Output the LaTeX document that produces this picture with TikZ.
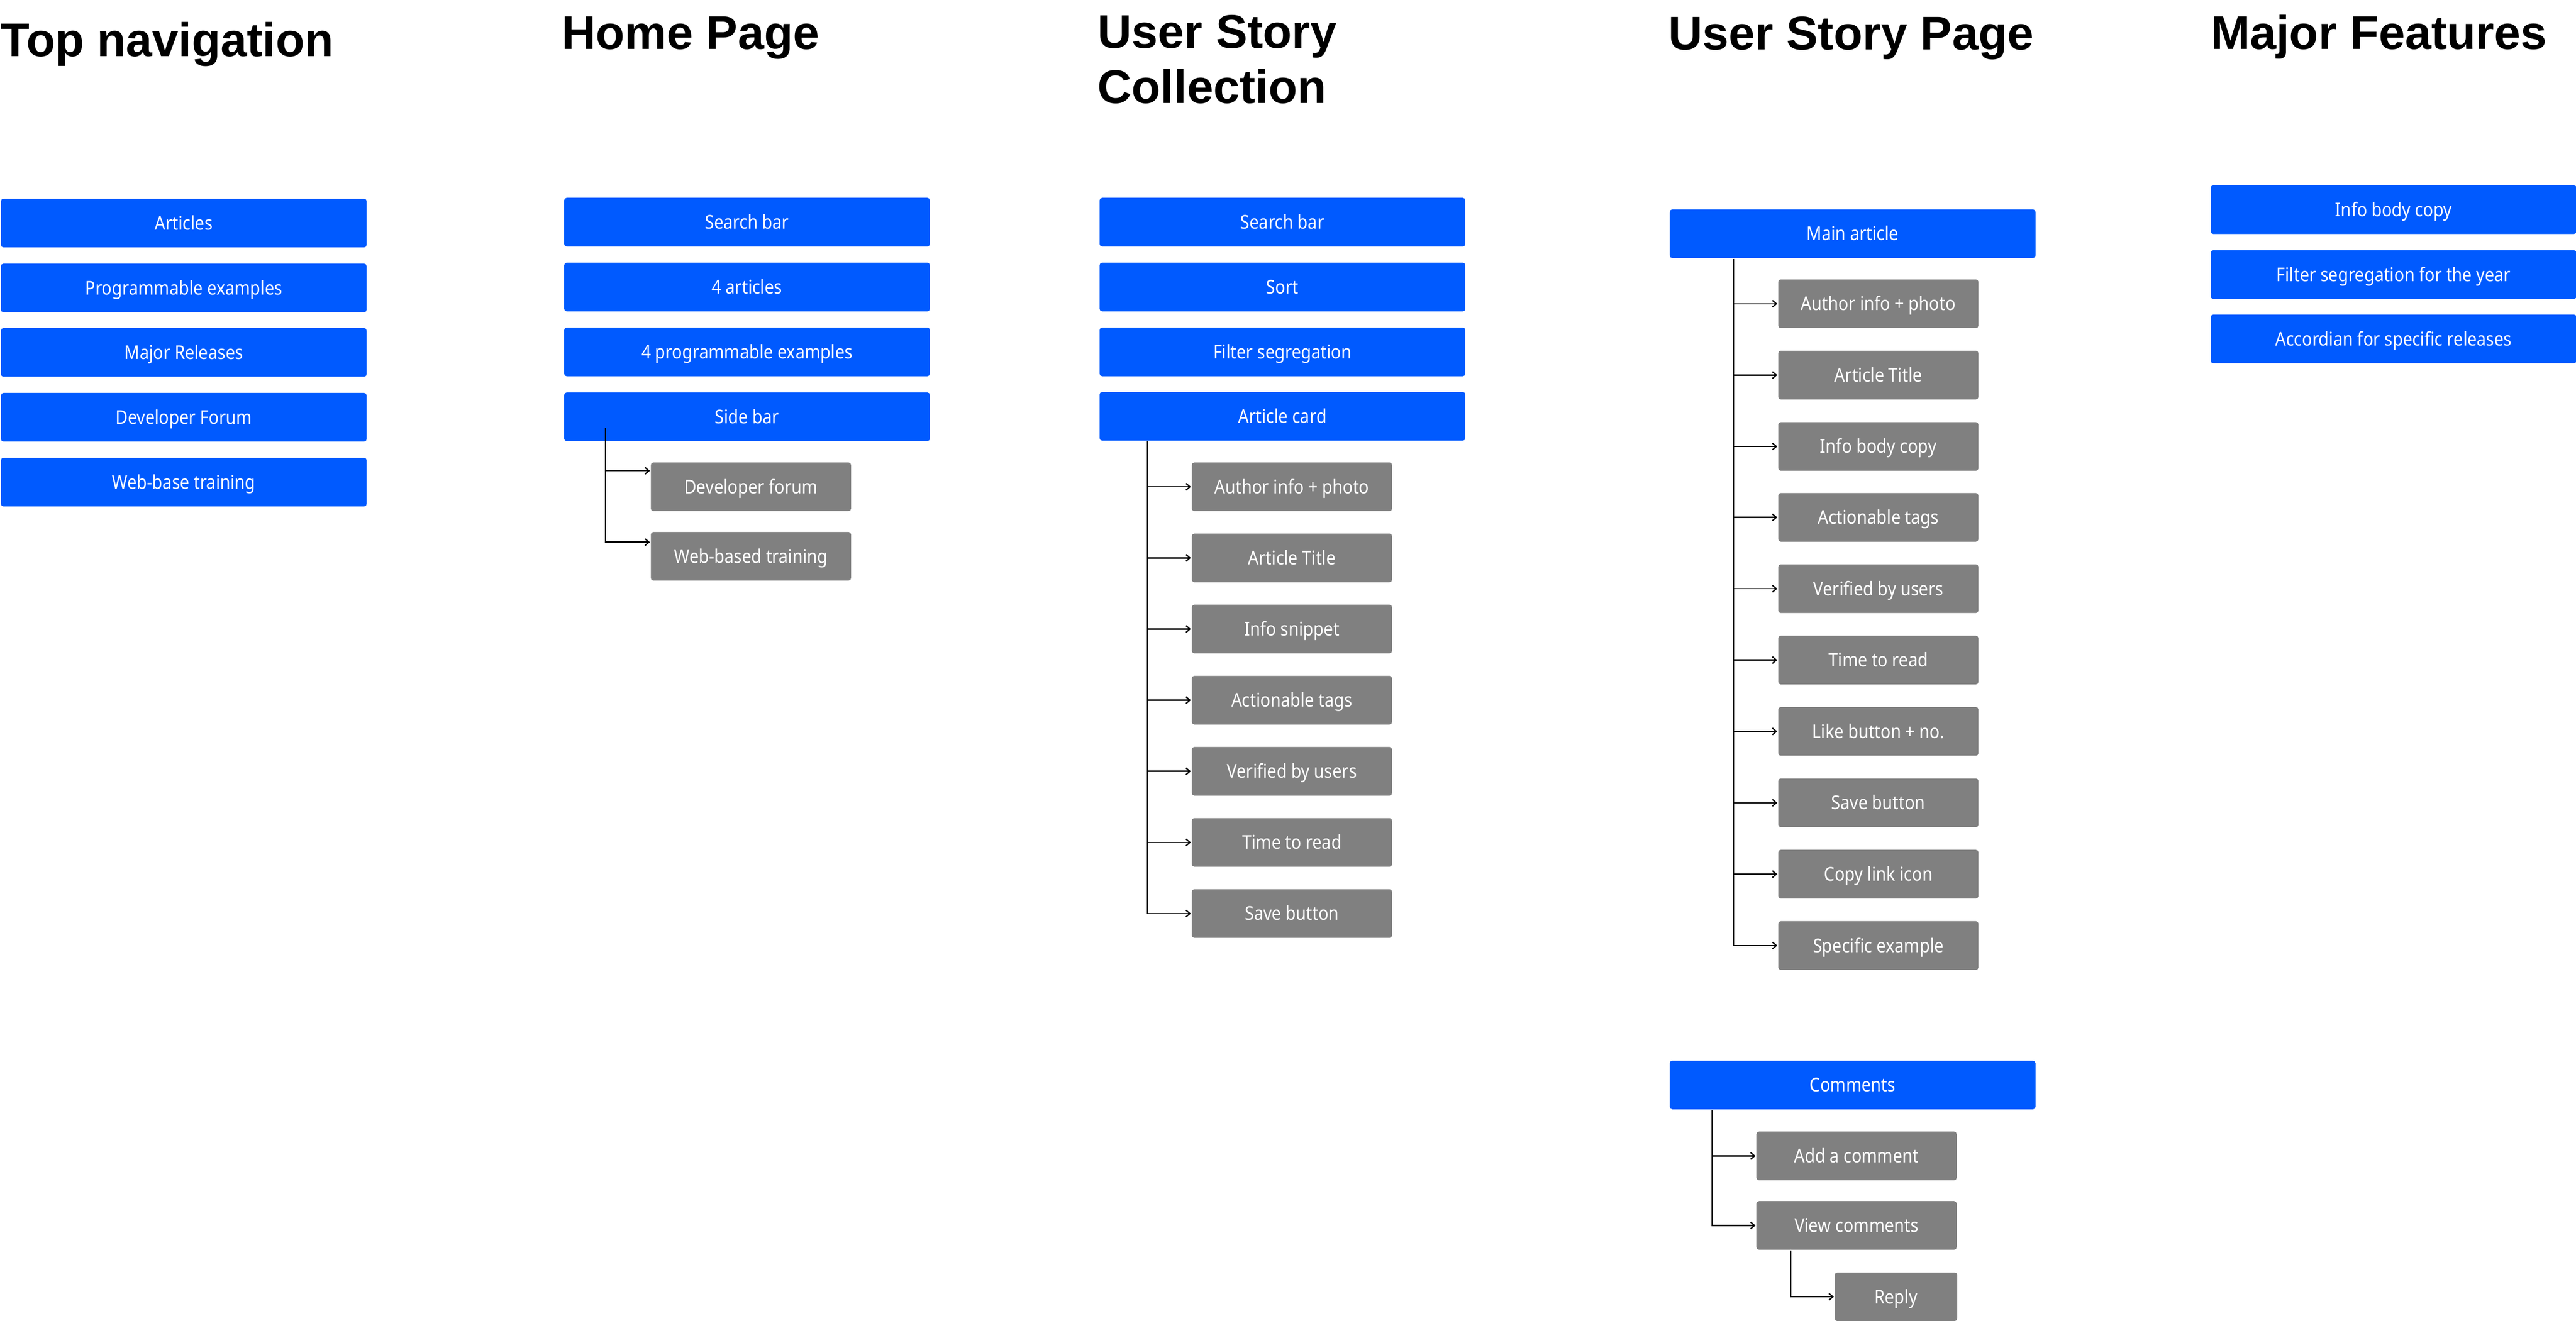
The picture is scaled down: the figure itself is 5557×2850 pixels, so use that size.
\documentclass[tikz,border=0pt]{standalone}
\usepackage{fontspec}
\setmainfont{Noto Sans}[FakeStretch=0.88]
\newfontfamily\titlefont{Liberation Sans}
\usetikzlibrary{arrows.meta,calc}
\definecolor{nblue}{HTML}{005AFF}
\definecolor{ngray}{HTML}{808080}
\tikzset{
  box/.style={rounded corners=0.55pt, inner sep=0pt, anchor=north west, text=white,
    font=\fontsize{4.1}{5}\selectfont, text height=2.9pt, text depth=0pt, minimum height=10.5pt},
  bluebox/.style={box, fill=nblue, minimum width=78.9pt},
  graybox/.style={box, fill=ngray, minimum width=43.2pt},
  replybox/.style={box, fill=ngray, minimum width=26.4pt},
  conn/.style={draw=black, line width=0.27pt, -{Straight Barb[length=0.85pt,width=1.45pt]}},
  title/.style={inner sep=0pt, anchor=base west, font=\titlefont\bfseries\fontsize{10.2}{11.9}\selectfont},
}
\begin{document}
\begin{tikzpicture}[x=0.1pt,y=-0.1pt]
\fill[white] (0,0) rectangle (5557,2850);
\useasboundingbox (0,0) rectangle (5557,2850);

% ---------- Top navigation ----------
\node[title] (tnT) at (0,122) {Top navigation};
\node[bluebox] (tn1) at (0,427) {Articles};
\node[bluebox] (tn2) at (0,567) {Programmable examples};
\node[bluebox] (tn3) at (0,706) {Major Releases};
\node[bluebox] (tn4) at (0,846) {Developer Forum};
\node[bluebox] (tn5) at (0,986) {Web-base training};

% ---------- Home Page ----------
\node[title] (hpT) at (1210,106) {Home Page};
\node[bluebox] (hp1) at (1215,425) {Search bar};
\node[bluebox] (hp2) at (1215,565) {4 articles};
\node[bluebox] (hp3) at (1215,705) {4 programmable examples};
\node[bluebox] (hp4) at (1215,845) {Side bar};
\node[graybox] (hpC1) at (1402,996) {Developer forum};
\node[graybox] (hpC2) at (1402,1146) {Web-based training};
\coordinate (hpTrunk) at ($(hp4.south west)+(91,-30)$);
\draw[conn] (hpTrunk) |- ($(hpC1.north west)+(0,20)$);
\draw[conn] (hpTrunk) |- ($(hpC2.north west)+(0,24)$);

% ---------- User Story Collection ----------
\node[title, anchor=north west, align=left] (ucT) at (2366,31) {User Story\\Collection};
\node[bluebox] (uc1) at (2370,425) {Search bar};
\node[bluebox] (uc2) at (2370,565) {Sort};
\node[bluebox] (uc3) at (2370,705) {Filter segregation};
\node[bluebox] (uc4) at (2370,844) {Article card};
\node[graybox] (ucC1) at (2569,996) {Author info + photo};
\node[graybox] (ucC2) at (2569,1149.5) {Article Title};
\node[graybox] (ucC3) at (2569,1303) {Info snippet};
\node[graybox] (ucC4) at (2569,1456.5) {Actionable tags};
\node[graybox] (ucC5) at (2569,1610) {Verified by users};
\node[graybox] (ucC6) at (2569,1763.5) {Time to read};
\node[graybox] (ucC7) at (2569,1917) {Save button};
\coordinate (ucTrunk) at ($(uc4.south west)+(105,0)$);
\foreach \i in {1,...,7} {\draw[conn] (ucTrunk) |- (ucC\i.west);}

% ---------- User Story Page ----------
\node[title] (upT) at (3597,107) {User Story Page};
\node[bluebox] (upM) at (3600,450) {Main article};
\node[graybox] (upC1) at (3834,601) {Author info + photo};
\node[graybox] (upC2) at (3834,755) {Article Title};
\node[graybox] (upC3) at (3834,909) {Info body copy};
\node[graybox] (upC4) at (3834,1062) {Actionable tags};
\node[graybox] (upC5) at (3834,1216) {Verified by users};
\node[graybox] (upC6) at (3834,1370) {Time to read};
\node[graybox] (upC7) at (3834,1524) {Like button + no.};
\node[graybox] (upC8) at (3834,1678) {Save button};
\node[graybox] (upC9) at (3834,1832) {Copy link icon};
\node[graybox] (upC10) at (3834,1986) {Specific example};
\coordinate (upTrunk) at ($(upM.south west)+(140,0)$);
\foreach \i in {1,...,10} {\draw[conn] (upTrunk) |- (upC\i.west);}

\node[bluebox] (upCm) at (3600,2287) {Comments};
\node[graybox] (upA) at (3787,2440) {Add a comment};
\node[graybox] (upV) at (3787,2590) {View comments};
\node[replybox] (upR) at (3956,2744) {Reply};
\coordinate (cmTrunk) at ($(upCm.south west)+(93,0)$);
\draw[conn] (cmTrunk) |- (upA.west);
\draw[conn] (cmTrunk) |- (upV.west);
\coordinate (vcTrunk) at ($(upV.south west)+(76,0)$);
\draw[conn] (vcTrunk) |- (upR.west);

% ---------- Major Features ----------
\node[title] (mfT) at (4767,106) {Major Features};
\node[bluebox] (mf1) at (4767,398) {Info body copy};
\node[bluebox] (mf2) at (4767,538) {Filter segregation for the year};
\node[bluebox] (mf3) at (4767,677) {Accordian for specific releases};
\end{tikzpicture}
\end{document}
